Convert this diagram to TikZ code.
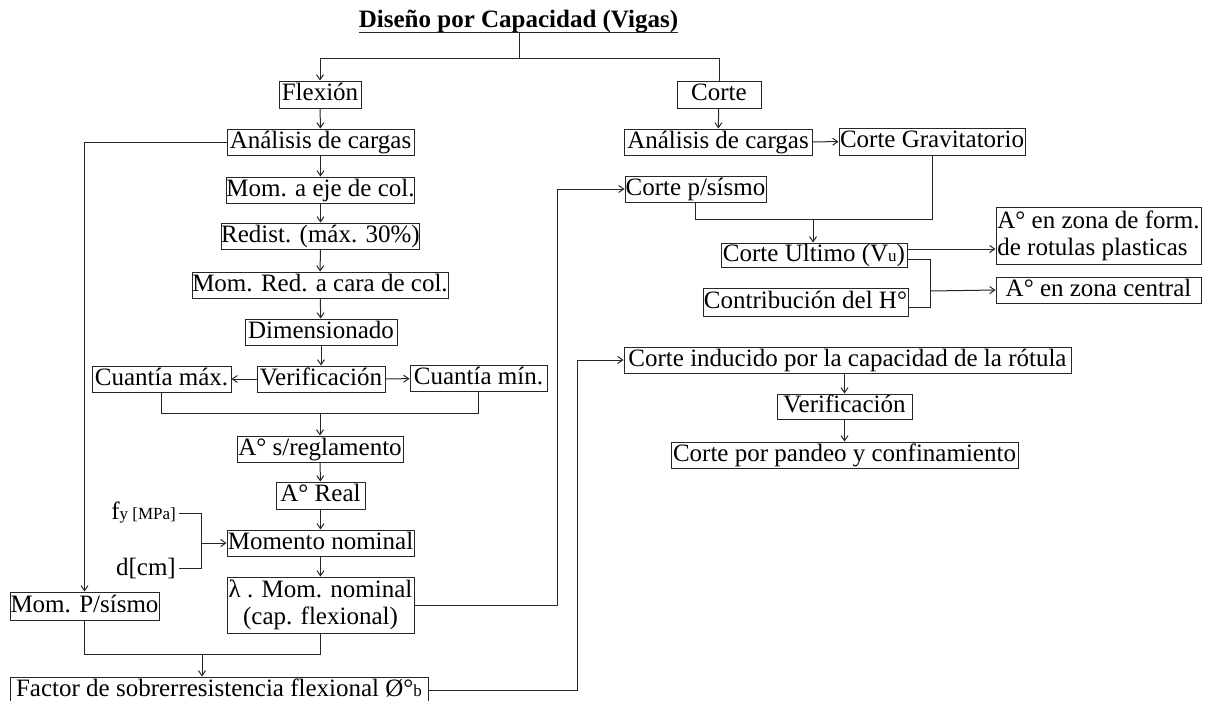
\documentclass[tikz,border=0pt]{standalone}
\usepackage{fontspec}
\setmainfont{Liberation Serif}
\usetikzlibrary{arrows.meta}
\newcommand\smtxt[1]{{\fontsize{17}{18}\selectfont #1}}
\begin{document}
\begin{tikzpicture}[x=1pt,y=-1pt,
 bx/.style={draw=black!85, line width=1pt, inner sep=0pt, font=\fontsize{25}{27}\selectfont, text height=17.5pt, text depth=5.5pt, minimum height=26pt},
 mbx/.style={draw=black!85, line width=1pt, inner sep=1pt, font=\fontsize{25}{27}\selectfont},
 ln/.style={draw=black!85, line width=1pt},
 arr/.style={ln, -{Straight Barb[length=5pt,width=7pt]}},
 lbl/.style={inner sep=0pt, font=\fontsize{25}{27}\selectfont}]
\useasboundingbox (0,0) rectangle (1207,701);
% title
\node[lbl, font=\fontsize{25}{27}\selectfont\bfseries, anchor=base] (title) at (518.5,28) {Diseño por Capacidad (Vigas)};
\draw[ln] ([yshift=-5pt]title.base west) -- ([yshift=-5pt]title.base east);
\coordinate (ttop) at (519,33);
\coordinate (tj) at (519,59);
% left column
\node[bx, minimum width=82, minimum height=27] (flex) at (320,94.5) {Flexión};
\node[bx, minimum width=187] (acL) at (320.5,142) {Análisis de cargas};
\node[bx, minimum width=187] (momEje) at (320.5,190) {Mom. a eje de col.};
\node[bx, minimum width=195] (redist) at (320.5,236) {Redist. (máx. 30\%)};
\node[bx, minimum width=256] (momRed) at (320,285) {Mom. Red. a cara de col.};
\node[bx, minimum width=152] (dimen) at (321,332) {Dimensionado};
\node[bx, minimum width=128] (verif) at (321,379) {Verificación};
\node[bx, minimum width=139] (cmax) at (161.5,379) {Cuantía máx.};
\node[bx, minimum width=137] (cmin) at (478.5,378.5) {Cuantía mín.};
\coordinate (j1) at (320,413);
\node[bx, minimum width=166] (asreg) at (320,449) {A° s/reglamento};
\node[bx, minimum width=89, minimum height=27] (areal) at (320.5,495.5) {A° Real};
\node[bx, minimum width=187] (momNom) at (320.5,543) {Momento nominal};
\node[mbx, minimum width=187, minimum height=56, align=center] (lambda) at (320.5,605) {λ . Mom. nominal\\(cap. flexional)};
\node[lbl, anchor=east] (fy) at (176,513) {f\smtxt{y [MPa]}};
\node[lbl, anchor=east] (dcm) at (176,568) {d[cm]};
\coordinate (jfy) at (201,543);
\node[bx, minimum width=149, minimum height=28] (mPs) at (84.5,606) {Mom. P/sísmo};
\coordinate (j2) at (202,654);
\node[bx, minimum width=418, minimum height=27] (factor) at (219,690.5) {Factor de sobrerresistencia flexional Ø°\smtxt{b}};
% right column
\node[bx, minimum width=84, minimum height=27] (corte) at (719,94.5) {Corte};
\node[bx, minimum width=188] (acR) at (718,142) {Análisis de cargas};
\node[bx, minimum width=186, minimum height=27] (cgrav) at (932,141.5) {Corte Gravitatorio};
\node[bx, minimum width=141] (cps) at (695.5,189) {Corte p/sísmo};
\coordinate (j3) at (813,219);
\node[bx, minimum width=186, minimum height=24] (cult) at (814,255) {Corte Ultimo (V\smtxt{u})};
\node[bx, minimum width=205, minimum height=28] (contrib) at (805.5,302) {Contribución del H°};
\node[mbx, minimum width=205, minimum height=57, align=left] (aform) at (1098.5,235.5) {A° en zona de form.\\de rotulas plasticas};
\node[bx, minimum width=205] (acent) at (1098.5,290) {A° en zona central};
\coordinate (j4) at (930,291);
\node[bx, minimum width=447] (cind) at (847.5,360) {Corte inducido por la capacidad de la rótula};
\node[bx, minimum width=135, minimum height=25] (verR) at (844.5,406.5) {Verificación};
\node[bx, minimum width=347] (cpand) at (844.5,455) {Corte por pandeo y confinamiento};
% connectors
\draw[ln] (ttop) -- (tj);
\draw[arr] (tj) -| (flex.north);
\draw[ln] (tj) -| (corte.north);
\draw[arr] (flex) -- (acL);
\draw[arr] (acL) -- (momEje);
\draw[arr] (momEje) -- (redist);
\draw[arr] (redist) -- (momRed);
\draw[arr] (momRed) -- (dimen);
\draw[arr] (dimen) -- (verif);
\draw[arr] (verif) -- (cmax);
\draw[arr] (verif) -- (cmin);
\draw[ln] (cmax.south) |- (j1);
\draw[ln] (cmin.south) |- (j1);
\draw[arr] (j1) -- (asreg.north);
\draw[arr] (asreg) -- (areal);
\draw[arr] (areal) -- (momNom);
\draw[arr] (momNom) -- (lambda);
\draw[ln] ([xshift=3pt]fy.east) -| (jfy);
\draw[ln] ([xshift=3pt]dcm.east) -| (jfy);
\draw[arr] (jfy) -- (momNom.west);
\draw[arr] (acL.west) -| (mPs.north);
\draw[ln] (mPs.south) |- (j2);
\draw[ln] (lambda.south) |- (j2);
\draw[arr] (j2) -- (j2 |- factor.north);
\draw[arr] (lambda.east) -- ++(143,0) |- (cps.west);
\draw[arr] (factor.east) -- ++(149,0) |- (cind.west);
\draw[arr] (corte) -- (acR);
\draw[arr] (acR) -- (cgrav);
\draw[ln] (cgrav.south) |- (j3);
\draw[ln] (cps.south) |- (j3);
\draw[arr] (j3) -- (j3 |- cult.north);
\draw[arr] ([yshift=6pt]cult.east) -- ([yshift=6pt]cult.east -| aform.west);
\draw[ln] ([yshift=-4pt]cult.east) -| (j4);
\draw[ln] ([yshift=-5pt]contrib.east) -| (j4);
\draw[arr] (j4) -- (acent.west);
\draw[arr] (verR.north |- cind.south) -- (verR.north);
\draw[arr] (verR) -- (cpand.north -| verR.south);
\end{tikzpicture}
\end{document}
